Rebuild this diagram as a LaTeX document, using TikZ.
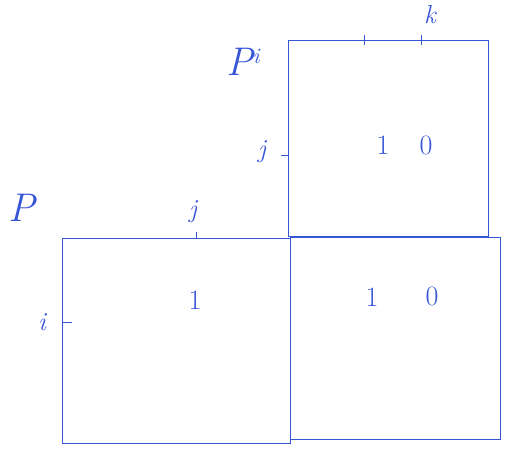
\documentclass[tikz,border=0pt]{standalone}
\begin{document}
\begin{tikzpicture}[x=1pt,y=-1pt,
  ink/.style={draw=inkblue, line width=0.6pt},
  mat/.style={ink, rectangle, inner sep=0pt, anchor=north west},
  lbl/.style={text=inkblue, font=\fontsize{26}{30}\selectfont\itshape},
  entry/.style={text=inkblue, font=\fontsize{28}{32}\selectfont},
  bigname/.style={text=inkblue, font=\fontsize{40}{44}\selectfont\itshape}]
\definecolor{inkblue}{RGB}{55,85,215}
\useasboundingbox (0,0) rectangle (520,450);
% matrices
\node[mat, minimum width=228pt, minimum height=205pt] (P) at (62,238) {};
\node[mat, minimum width=200pt, minimum height=196pt] (Pi) at (288,40) {};
\node[mat, minimum width=210pt, minimum height=202pt] (Q) at (290,237) {};
% names
\node[bigname] (Pname) at (22,208) {P};
\node[bigname] (Piname) at (243,62) {P\raisebox{12pt}{\fontsize{22}{24}\selectfont i}};
% index labels and ticks, P
\coordinate (Pj) at (196,238);
\draw[ink] (Pj) -- ++(0,-6);
\node[lbl] (Pjl) at (193,212) {j};
\coordinate (Pi0) at (62,322);
\draw[ink] (Pi0) -- ++(10,0);
\node[lbl] (Pil) at (42,322) {i};
% index labels and ticks, P^i
\coordinate (PiR) at (288,155);
\draw[ink] (PiR) -- ++(-7,0);
\node[lbl] (PiRl) at (262,152) {j};
\coordinate (PiC1) at (364,40);
\draw[ink] (PiC1) ++(0,-5) -- ++(0,10);
\coordinate (PiC2) at (421,40);
\draw[ink] (PiC2) ++(0,-5) -- ++(0,10);
\node[lbl] (PiC2l) at (430,15) {k};
% entries
\node[entry] (e1) at (383,145) {1};
\node[entry] (e2) at (426,145) {0};
\node[entry] (e3) at (372,297) {1};
\node[entry] (e4) at (432,296) {0};
\node[entry] (e5) at (195,300) {1};
\end{tikzpicture}
\end{document}
